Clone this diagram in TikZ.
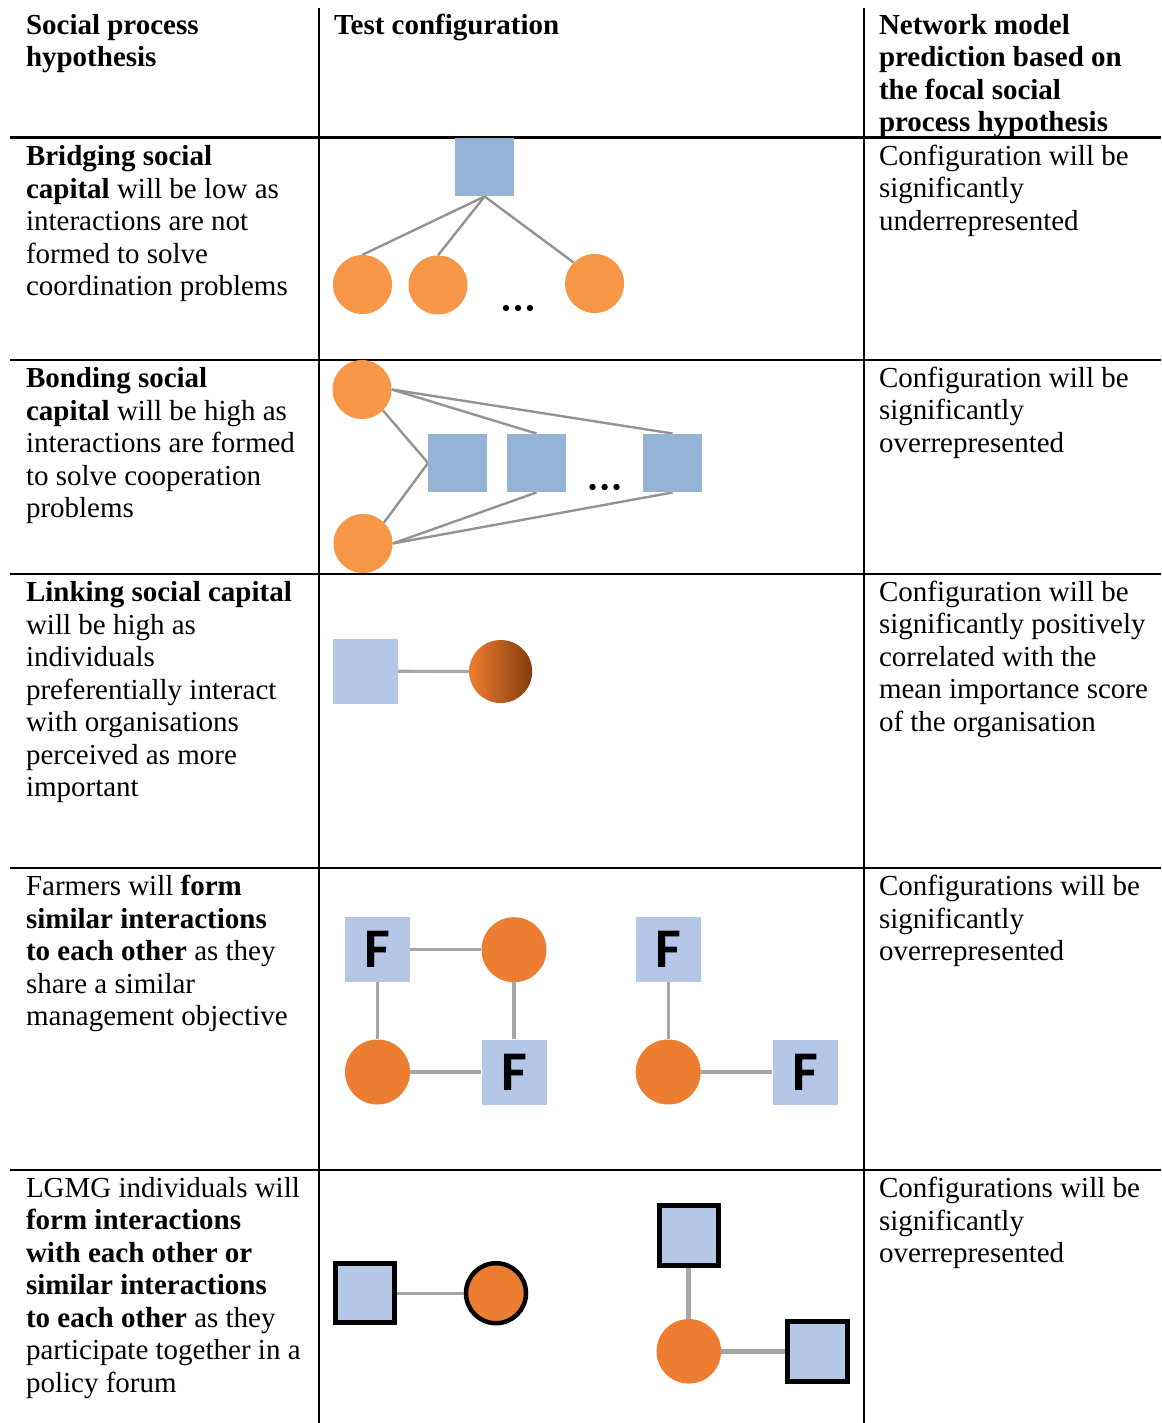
\documentclass[tikz,border=0pt]{standalone}
\usepackage{fontspec}
\setmainfont{Liberation Serif}
\newfontfamily\glyphfont{Carlito}
\usetikzlibrary{backgrounds}
\definecolor{blueA}{HTML}{95B3D7}
\definecolor{orangeA}{HTML}{F79646}
\definecolor{edgeA}{HTML}{939393}
\definecolor{blueB}{HTML}{B4C7E7}
\definecolor{orangeB}{HTML}{ED7D31}
\definecolor{brownB}{HTML}{843C0C}
\definecolor{edgeB}{HTML}{A6A6A6}
\newcommand{\cellfont}{\fontsize{29}{32.5}\selectfont}
\begin{document}
\begin{tikzpicture}[x=1pt,y=-1pt,
  rule/.style={line width=2.6, black},
  cell/.style={anchor=north west, inner sep=0, outer sep=0, align=left, font=\cellfont},
  sqA/.style={rectangle, fill=blueA, minimum size=58.5, inner sep=0},
  circA/.style={circle, fill=orangeA, minimum size=59, inner sep=0},
  linkA/.style={draw=edgeA, line width=2.4},
  sqB/.style={rectangle, fill=blueB, minimum size=65, inner sep=0,
    font={\fontsize{56}{60}\glyphfont\bfseries}},
  circB/.style={circle, fill=orangeB, minimum size=65, inner sep=0},
  sqBox/.style={rectangle, fill=blueB, draw=black, line width=5, minimum size=59.5, inner sep=0},
  circBox/.style={circle, fill=orangeB, draw=black, line width=4.5, minimum size=60, inner sep=0},
  linkB/.style={draw=edgeB, line width=3.2},
  linkThick/.style={draw=edgeB, line width=5},
  dotmark/.style={fill=black}
]
\useasboundingbox (0,0) rectangle (1161,1423);

% ---- table rules ----
\draw[rule] (319,8) -- (319,1423);
\draw[rule] (864,8) -- (864,1423);
\foreach \yy in {137.5,360,574,868,1170}
  \draw[rule] (10,\yy) -- (1161,\yy);

% ---- header row ----
\node[cell] (h1) at (26,11.5) {\strut\textbf{Social process}\\\textbf{hypothesis}};
\node[cell] (h2) at (334,11.5) {\strut\textbf{Test configuration}};
\node[cell] (h3) at (879,11.5) {\strut\textbf{Network model}\\\textbf{prediction based on}\\\textbf{the focal social}\\\textbf{process hypothesis}};

% ---- hypotheses ----
\node[cell] (p1) at (26,143) {\strut\textbf{Bridging social}\\\textbf{capital} will be low as\\interactions are not\\formed to solve\\coordination problems};
\node[cell] (p2) at (26,365) {\strut\textbf{Bonding social}\\\textbf{capital} will be high as\\interactions are formed\\to solve cooperation\\problems};
\node[cell] (p3) at (26,579) {\strut\textbf{Linking social capital}\\will be high as\\individuals\\preferentially interact\\with organisations\\perceived as more\\important};
\node[cell] (p4) at (26,873) {\strut Farmers will \textbf{form}\\\textbf{similar interactions}\\\textbf{to each other} as they\\share a similar\\management objective};
\node[cell] (p5) at (26,1174.5) {\strut LGMG individuals will\\\textbf{form interactions}\\\textbf{with each other or}\\\textbf{similar interactions}\\\textbf{to each other} as they\\participate together in a\\policy forum};

% ---- predictions ----
\node[cell] (r1) at (879,142.5) {\strut Configuration will be\\significantly\\underrepresented};
\node[cell] (r2) at (879,364.5) {\strut Configuration will be\\significantly\\overrepresented};
\node[cell] (r3) at (879,578.5) {\strut Configuration will be\\significantly positively\\correlated with the\\mean importance score\\of the organisation};
\node[cell] (r4) at (879,873) {\strut Configurations will be\\significantly\\overrepresented};
\node[cell] (r5) at (879,1175) {\strut Configurations will be\\significantly\\overrepresented};

% ---- bridging: one organisation, many individuals ----
\node[sqA] (bt) at (484.6,167) {};
\node[circA] (b1) at (362.5,284.5) {};
\node[circA] (b2) at (438,285) {};
\node[circA] (b3) at (594.6,283.5) {};
\foreach \xx in {506,518,530} \fill[dotmark] (\xx,308) circle (3.2);

% ---- bonding: two individuals, many organisations ----
\node[circA] (ka) at (362,389.5) {};
\node[circA] (kb) at (363,543.5) {};
\node[sqA] (k1) at (457.5,463) {};
\node[sqA] (k2) at (536.5,463) {};
\node[sqA] (k3) at (672.6,463) {};
\foreach \xx in {592.5,604.6,616.5} \fill[dotmark] (\xx,487) circle (3.2);

% ---- linking: organisation and individual of graded importance ----
\node[rectangle, fill=blueB, minimum size=64.6, inner sep=0] (ls) at (365.2,671.3) {};
\node[circle, minimum size=63, inner sep=0, left color=orangeB, right color=brownB] (lc) at (500.7,671.5) {};

% ---- farmers ----
\node[sqB] (f1) at (377.5,949.7) {F};
\node[circB] (f2) at (514,949.7) {};
\node[circB] (f3) at (377.5,1072) {};
\node[sqB] (f4) at (514,1072) {F};
\node[sqB] (g1) at (668.2,949.7) {F};
\node[circB] (g2) at (668.2,1072) {};
\node[sqB] (g3) at (805,1072) {F};

% ---- policy forum ----
\node[sqBox] (m1) at (365.2,1293.2) {};
\node[circBox] (m2) at (496,1293.2) {};
\node[sqBox] (n1) at (688.8,1235.5) {};
\node[circB, minimum size=64.5] (n2) at (688.8,1351.3) {};
\node[sqBox] (n3) at (817.5,1351.3) {};

% ---- connectors ----
\begin{scope}[on background layer]
  \draw[linkA] (bt.south) -- (b1.north);
  \draw[linkA] (bt.south) -- (b2.north);
  \draw[linkA] (bt.south) -- (b3.north west);

  \draw[linkA] (ka.east) -- (k2.north);
  \draw[linkA] (ka.east) -- (k3.north);
  \draw[linkA] (ka.south east) -- (k1.west) -- (kb.north east);
  \draw[linkA] (kb.east) -- (k2.south);
  \draw[linkA] (kb.east) -- (k3.south);

  \draw[linkB] (ls.east) -- (lc.west);

  \draw[linkB] (f1) -- (f2);
  \draw[linkB] (f1) -- (f3);
  \draw[linkB] (f2) -- (f4);
  \draw[linkB] (f3) -- (f4);
  \draw[linkB] (g1) -- (g2);
  \draw[linkB] (g2) -- (g3);

  \draw[linkB, line width=2.8] (m1) -- (m2);
  \draw[linkThick] (n1) -- (n2);
  \draw[linkThick] (n2) -- (n3);
\end{scope}
\end{tikzpicture}
\end{document}
